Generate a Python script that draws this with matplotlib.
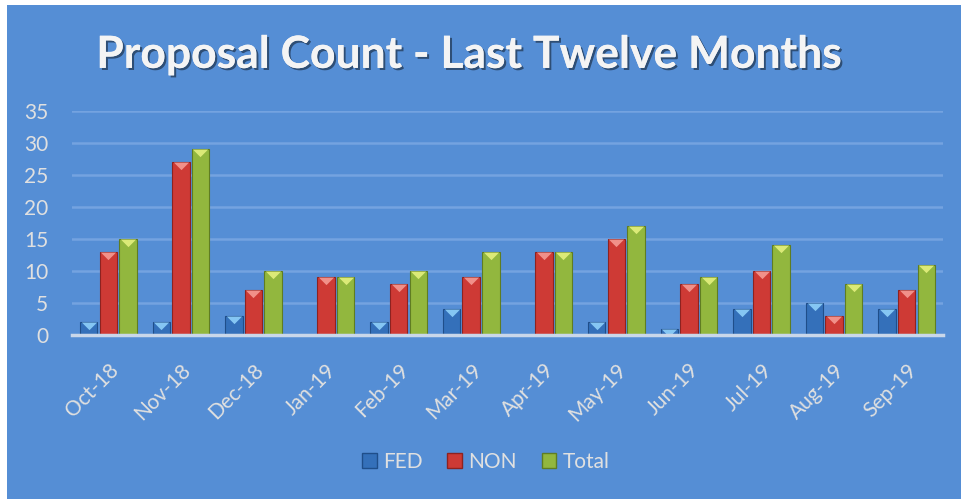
import numpy as np
import matplotlib
matplotlib.use("Agg")
import matplotlib.pyplot as plt
import matplotlib.patheffects as pe
from matplotlib.patches import Rectangle, Patch

months = ['Oct-18', 'Nov-18', 'Dec-18', 'Jan-19', 'Feb-19', 'Mar-19',
          'Apr-19', 'May-19', 'Jun-19', 'Jul-19', 'Aug-19', 'Sep-19']
fed = [2, 2, 3, 0, 2, 4, 0, 2, 1, 4, 5, 4]
non = [13, 27, 7, 9, 8, 9, 13, 15, 8, 10, 3, 7]
total = [15, 29, 10, 9, 10, 13, 13, 17, 9, 14, 8, 11]

series = [
    ('FED', fed, '#3470BA', '#1F4E8A', '#8FD0FA'),
    ('NON', non, '#CE3A35', '#8E2220', '#F59A93'),
    ('Total', total, '#92B73E', '#5F7D22', '#E4F07E'),
]

bg = '#558ED5'
txt = '#E0E0E0'
plt.rcParams['font.family'] = ['Lato', 'DejaVu Sans']

fig = plt.figure(figsize=(9.62, 4.99), dpi=100)
fig.patch.set_facecolor('white')
fig.patches.append(Rectangle((7 / 962, 0), 1, 494 / 499, transform=fig.transFigure,
                             facecolor=bg, edgecolor='none', zorder=-10))

ax = fig.add_axes([72 / 962, 164 / 499, 871 / 962, 224 / 499])
ax.set_facecolor('none')

x = np.arange(len(months))
w = 0.24
step = 0.27
tri = [(-0.5, 0), (0.5, 0), (0, -0.5)]
for i, (name, vals, col, edge, light) in enumerate(series):
    xs = x + (i - 1) * step
    ax.bar(xs, vals, width=w, color=col, edgecolor=edge, linewidth=0.8, zorder=3)
    # bevel highlight on the bar tops
    vx = [a for a, v in zip(xs, vals) if v > 0]
    vy = [v for v in vals if v > 0]
    ax.plot(vx, vy, linestyle='none', marker=tri, markersize=11,
            markerfacecolor=light, markeredgecolor='none', alpha=0.9, zorder=4)

ax.set_xlim(-0.5, len(months) - 0.5)
ax.set_ylim(0, 35)
ax.set_yticks(range(0, 36, 5))
ax.yaxis.grid(True, color='#74A3E0', linewidth=1.8, zorder=1)
ax.set_axisbelow(True)
for s in ['top', 'right', 'left']:
    ax.spines[s].set_visible(False)
ax.spines['bottom'].set_color('#C9D7EA')
ax.spines['bottom'].set_linewidth(2.5)
ax.spines['bottom'].set_zorder(5)

ax.set_xticks(x)
ax.set_xticklabels(months, rotation=45, ha='right', rotation_mode='anchor')
ax.tick_params(axis='x', length=0, pad=18, labelsize=15, labelcolor=txt)
ax.tick_params(axis='y', length=0, pad=17, labelsize=15, labelcolor=txt)

fig.text(0.488, 0.89, 'Proposal Count - Last Twelve Months', ha='center', va='center',
         fontsize=32, fontweight='bold', color='#F4F4F4',
         path_effects=[pe.withSimplePatchShadow(offset=(1.5, -1.5), shadow_rgbFace='black', alpha=0.45),
                       pe.Normal()])

handles = [Patch(facecolor=c, edgecolor=e, label=n) for n, _, c, e, _ in series]
fig.legend(handles=handles, loc='center', bbox_to_anchor=(0.505, 0.074), ncol=3,
           frameon=False, fontsize=15, labelcolor=txt, handlelength=0.7, handleheight=0.7,
           handletextpad=0.3, columnspacing=1.2)

fig.savefig('out.png', dpi=100, facecolor=fig.get_facecolor())
